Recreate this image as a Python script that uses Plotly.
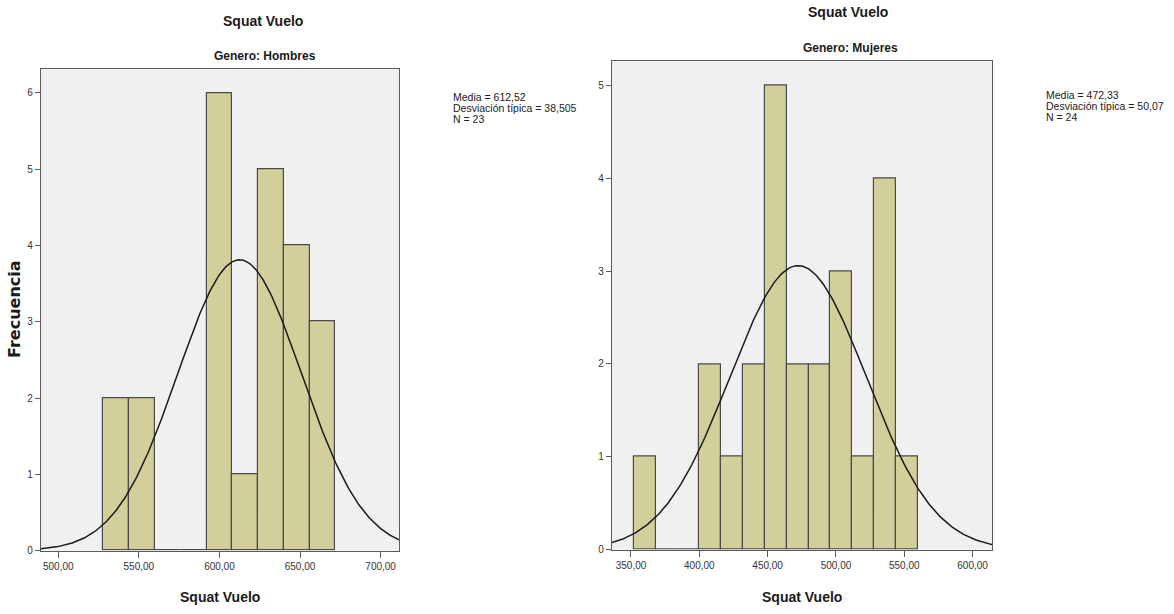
import numpy as np
import plotly.graph_objects as go

W, H = 1174, 614

# ---- data ----
bin_width = 16
hombres_bin_centers = [536, 552, 568, 584, 600, 616, 632, 648, 664]
hombres_counts = [2, 2, 0, 0, 6, 1, 5, 4, 3]
hombres_mean, hombres_sd, hombres_n = 612.52, 38.505, 23

mujeres_bin_centers = [360, 376, 392, 408, 424, 440, 456, 472, 488, 504, 520, 536, 552]
mujeres_counts = [1, 0, 0, 2, 1, 2, 5, 2, 2, 3, 1, 4, 1]
mujeres_mean, mujeres_sd, mujeres_n = 472.33, 50.07, 24

hombres_xticks = [500, 550, 600, 650, 700]
mujeres_xticks = [350, 400, 450, 500, 550, 600]
hombres_yticks = [0, 1, 2, 3, 4, 5, 6]
mujeres_yticks = [0, 1, 2, 3, 4, 5]

def lab(v):
    return f"{v:.2f}".replace(".", ",")

NARROW = "Liberation Sans Narrow, Arial Narrow, Liberation Sans, Arial"
BAR_COLOR = "#D3CF9A"
BAR_LINE = "#4a4a4a"
BG = "#F0F0F0"
AX = "#5a5a5a"

# pixel geometry -> paper
def px(x):
    return x / W
def py(y):
    return 1 - y / H

L_dom_x = [px(41), px(399)]
L_dom_y = [py(556), py(70)]
R_dom_x = [px(612), px(992)]
R_dom_y = [py(555), py(62)]
L_xr = [489.3, 711.4]
R_xr = [336.1, 614.2]
L_yr = [0, 6.31]
R_yr = [0, 5.26]

def normal_curve(mean, sd, n, xr):
    xs = np.linspace(xr[0], xr[1], 300)
    ys = n * bin_width * np.exp(-0.5 * ((xs - mean) / sd) ** 2) / (sd * np.sqrt(2 * np.pi))
    return xs, ys

fig = go.Figure()

fig.add_trace(go.Bar(x=hombres_bin_centers, y=hombres_counts, width=bin_width,
                     marker=dict(color=BAR_COLOR, line=dict(color=BAR_LINE, width=1.2)),
                     xaxis="x", yaxis="y", showlegend=False))
hx, hy = normal_curve(hombres_mean, hombres_sd, hombres_n, L_xr)
fig.add_trace(go.Scatter(x=hx, y=hy, mode="lines", line=dict(color="#1a1a1a", width=1.5),
                         xaxis="x", yaxis="y", showlegend=False))

fig.add_trace(go.Bar(x=mujeres_bin_centers, y=mujeres_counts, width=bin_width,
                     marker=dict(color=BAR_COLOR, line=dict(color=BAR_LINE, width=1.2)),
                     xaxis="x2", yaxis="y2", showlegend=False))
mx, my = normal_curve(mujeres_mean, mujeres_sd, mujeres_n, R_xr)
fig.add_trace(go.Scatter(x=mx, y=my, mode="lines", line=dict(color="#1a1a1a", width=1.5),
                         xaxis="x2", yaxis="y2", showlegend=False))

tickfont = dict(family=NARROW, size=10, color="#333333")

def xax(dom, rng, ticks, anchor):
    return dict(domain=dom, range=rng, tickvals=ticks, ticktext=[lab(t) for t in ticks],
                showgrid=False, zeroline=False, showline=True, mirror=True, linecolor=AX,
                linewidth=1.3, ticks="outside", ticklen=6, tickcolor=AX, tickfont=tickfont,
                anchor=anchor, fixedrange=True)

def yax(dom, rng, ticks, anchor):
    return dict(domain=dom, range=rng, tickvals=ticks, ticktext=[str(t) for t in ticks],
                showgrid=False, zeroline=False, showline=True, mirror=True, linecolor=AX,
                linewidth=1.3, ticks="outside", ticklen=5, tickcolor=AX, tickfont=tickfont,
                anchor=anchor, fixedrange=True)

annotations = []
def text(x, y, t, size, bold=True, family=NARROW, anchor="center", textangle=0):
    annotations.append(dict(x=px(x), y=py(y), xref="paper", yref="paper", text=t,
                            showarrow=False, xanchor=anchor, yanchor="middle",
                            textangle=textangle,
                            font=dict(family=family, size=size, color="#1a1a1a",
                                      weight="bold" if bold else "normal")))

text(263, 21, "Squat Vuelo", 14)
text(265, 57, "Genero: Hombres", 12)
text(848, 12, "Squat Vuelo", 14)
text(850, 48, "Genero: Mujeres", 12)
text(220, 603, "Squat Vuelo", 14)
text(802, 603, "Squat Vuelo", 14)
text(15, 312, "Frecuencia", 16, family="DejaVu Sans, Arial", textangle=-90)

def stats(x, y0, mean_s, sd_s, n):
    lines = [f"Media = {mean_s}", f"Desviación típica = {sd_s}", f"N = {n}"]
    for i, t in enumerate(lines):
        text(x, y0 + 11 * i, t, 10.5, bold=False, anchor="left")

stats(451, 98, "612,52", "38,505", hombres_n)
stats(1044, 96, "472,33", "50,07", mujeres_n)

fig.update_layout(
    width=W, height=H, margin=dict(l=0, r=0, t=0, b=0),
    paper_bgcolor="white", plot_bgcolor=BG, bargap=0,
    xaxis=xax(L_dom_x, L_xr, hombres_xticks, "y"),
    yaxis=yax(L_dom_y, L_yr, hombres_yticks, "x"),
    xaxis2=xax(R_dom_x, R_xr, mujeres_xticks, "y2"),
    yaxis2=yax(R_dom_y, R_yr, mujeres_yticks, "x2"),
    annotations=annotations,
)

fig.write_html("out.html")
